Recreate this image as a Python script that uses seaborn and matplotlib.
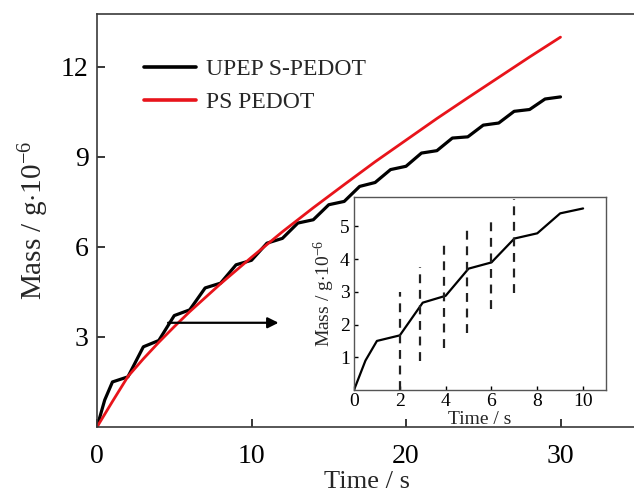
import numpy as np
import pandas as pd
import matplotlib
matplotlib.use("Agg")
import matplotlib.pyplot as plt
import seaborn as sns

# ---- data ----
time_upep = [0, 0.5, 1, 2, 3, 4, 5, 6, 7, 8, 9, 10, 11, 12, 13, 14, 15, 16, 17, 18, 19, 20,
             21, 22, 23, 24, 25, 26, 27, 28, 29, 30]
mass_upep = [0, 0.9, 1.5, 1.67, 2.67, 2.88, 3.71, 3.9, 4.63, 4.79, 5.4, 5.55, 6.12, 6.28, 6.79, 6.9,
             7.4, 7.51, 8.01, 8.14, 8.57, 8.68, 9.12, 9.2, 9.62, 9.66, 10.05, 10.12, 10.51, 10.57,
             10.92, 10.99]
time_ps = [0, 1, 2, 3, 4, 5, 6, 8, 10, 12, 14, 16, 18, 20, 22, 24, 26, 28, 30]
mass_ps = [0, 0.85, 1.68, 2.27, 2.82, 3.34, 3.84, 4.77, 5.65, 6.5, 7.3, 8.07, 8.83, 9.55,
           10.27, 10.96, 11.64, 12.32, 12.98]
series_names = ["UPEP S-PEDOT", "PS PEDOT"]

inset_time = time_upep[:12]
inset_mass = mass_upep[:12]
dash_x = [2, 2.9, 3.95, 4.92, 5.98, 6.98]
dash_lo = [0, 0.88, 1.27, 1.73, 2.48, 2.96]
dash_hi = [3.0, 3.75, 4.5, 4.95, 5.32, 5.85]

main_xticks = [0, 10, 20, 30]
main_yticks = [3, 6, 9, 12]
inset_xticks = [0, 2, 4, 6, 8, 10]
inset_yticks = [1, 2, 3, 4, 5]

df = pd.concat([
    pd.DataFrame({"t": time_upep, "m": mass_upep, "s": series_names[0]}),
    pd.DataFrame({"t": time_ps, "m": mass_ps, "s": series_names[1]}),
])

sns.set_style("ticks")
plt.rcParams["font.family"] = ["Liberation Serif", "DejaVu Serif"]
plt.rcParams["mathtext.fontset"] = "custom"
plt.rcParams["mathtext.rm"] = "Liberation Serif"
plt.rcParams["mathtext.it"] = "Liberation Serif:italic"

W, H = 634, 496
fig = plt.figure(figsize=(W / 100, H / 100), dpi=100)

spine_col = "#3a3a3a"
ax = fig.add_axes([97 / W, (H - 427) / H, 35 * 15.45 / W, 413 / H])
sns.lineplot(data=df, x="t", y="m", hue="s", palette=["black", "#e8141b"],
             ax=ax, estimator=None, sort=False, legend=True)
for ln, lw in zip(ax.lines, [2.3, 2.0]):
    ln.set_linewidth(lw)
    ln.set_solid_joinstyle("round")
ax.set_xlim(0, 35)
ax.set_ylim(0, 13.75)
ax.set_xticks(main_xticks)
ax.set_yticks(main_yticks)
ax.tick_params(direction="in", length=6, width=1.1, labelsize=20, colors="black")
ax.tick_params(axis="x", pad=12)
ax.tick_params(axis="y", pad=6)
for sp in ax.spines.values():
    sp.set_linewidth(1.2)
    sp.set_color(spine_col)
ax.set_xlabel("Time / s", fontsize=19, labelpad=2)
ax.set_ylabel(r"Mass / g$\cdot$10$^{-6}$", fontsize=21, labelpad=7)

leg = ax.legend(frameon=False, loc="upper left", bbox_to_anchor=(0.07, 0.915),
                fontsize=17, handlelength=2.2, handletextpad=0.4, labelspacing=0.5,
                borderaxespad=0)
for h in leg.get_lines():
    h.set_linewidth(2.6)

ax.annotate("", xy=(11.75, 3.47), xytext=(4.6, 3.47),
            arrowprops=dict(arrowstyle="-|>", color="black", lw=1.6,
                            mutation_scale=16, shrinkA=0, shrinkB=0))

# inset
ins = fig.add_axes([354 / W, (H - 390) / H, 252 / W, 193 / H])
sns.lineplot(x=inset_time, y=inset_mass, color="black", ax=ins, estimator=None, sort=False)
ins.lines[0].set_linewidth(1.6)
ins.vlines(dash_x, dash_lo, dash_hi, colors="#222222", linestyles=(0, (4, 3)), linewidth=1.6)
ins.set_xlim(0, 11)
ins.set_ylim(0, 5.9)
ins.set_xticks(inset_xticks)
ins.set_yticks(inset_yticks)
ins.tick_params(direction="in", length=3, width=1.0, labelsize=14, colors="black", pad=3)
ins.tick_params(axis="x", pad=2.5)
for sp in ins.spines.values():
    sp.set_linewidth(1.0)
    sp.set_color("#555555")
ins.set_xlabel("Time / s", fontsize=14, labelpad=0.5)
ins.set_ylabel(r"Mass / g$\cdot$10$^{-6}$", fontsize=14, labelpad=2)

fig.savefig("out.png", dpi=100)
